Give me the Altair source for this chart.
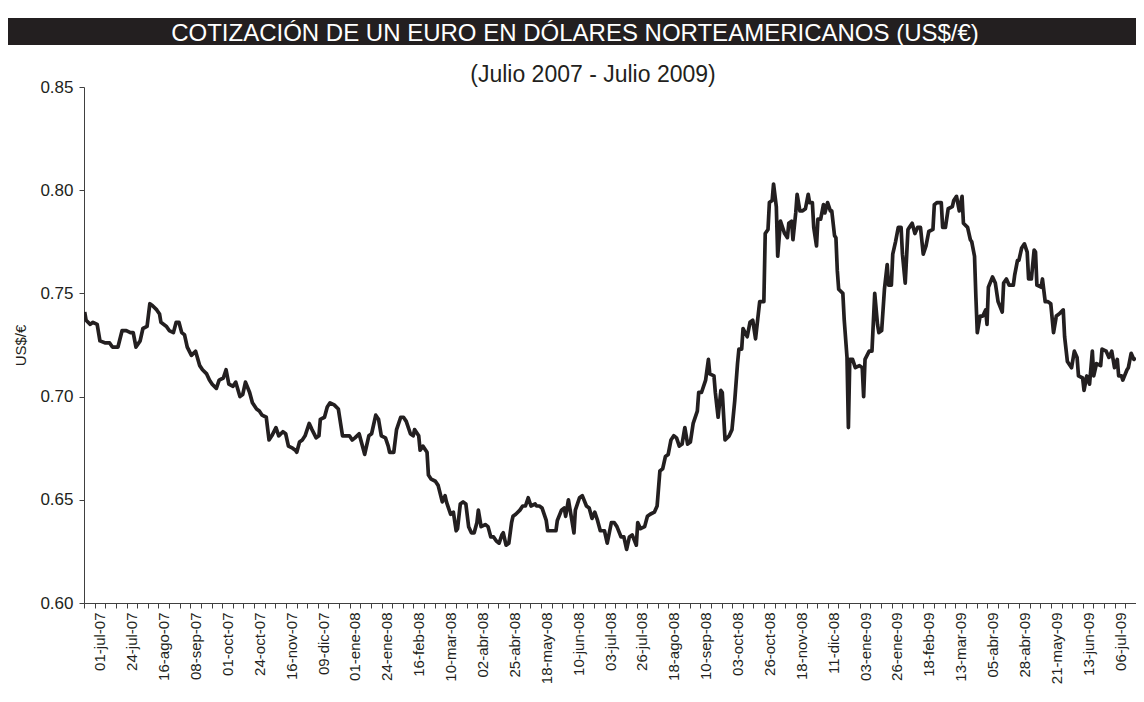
import json
import altair as alt
import pandas as pd

# ---- data: (days since 01-jul-2007, €/US$ quotation) ----
serie_2007 = [(-11,0.741),(-10,0.737),(-7,0.735),(-5,0.736),(-2,0.735),(0,0.727),(4,0.726),(7,0.726),(9,0.724),(13,0.724),(16,0.732),(19,0.732),(22,0.731),(24,0.731),(26,0.724),(29,0.727),(31,0.733),(34,0.734),(36,0.745),(38,0.744),(41,0.742),(43,0.740),(44,0.736),(48,0.734),(50,0.732),(53,0.731),(55,0.736),(57,0.736),(59,0.731),(61,0.730),(63,0.724),(66,0.720),(69,0.722),(72,0.715),(74,0.713),(77,0.711),(79,0.708),(81,0.706),(84,0.704),(86,0.708),(89,0.709),(91,0.713),(93,0.706),(96,0.705),(98,0.707),(101,0.700),(103,0.701),(105,0.707),(108,0.702),(110,0.697),(113,0.694),(115,0.693),(117,0.691),(120,0.690),(122,0.679),(124,0.681),(127,0.685),(129,0.681),(132,0.683),(134,0.682),(136,0.676),(139,0.675),(141,0.674),(142,0.673),(144,0.678),(146,0.679),(148,0.681),(151,0.687),(153,0.684),(156,0.680),(158,0.681),(159,0.689),(162,0.690),(164,0.695),(166,0.697),(169,0.696),(172,0.694),(175,0.681),(177,0.681),(180,0.681),(182,0.679)]

serie_2008 = [(184,0.680),(187,0.682),(189,0.677),(191,0.672),(194,0.681),(196,0.682),(199,0.691),(201,0.689),(203,0.681),(206,0.680),(208,0.676),(209,0.673),(212,0.673),(214,0.684),(217,0.690),(219,0.690),(221,0.688),(224,0.682),(226,0.681),(227,0.684),(230,0.681),(231,0.674),(233,0.676),(236,0.673),(237,0.662),(239,0.660),(242,0.659),(244,0.657),(247,0.649),(249,0.652),(250,0.649),(253,0.643),(255,0.644),(257,0.635),(258,0.636),(260,0.648),(262,0.649),(264,0.648),(266,0.637),(268,0.634),(270,0.634),(272,0.639),(273,0.645),(275,0.637),(278,0.638),(280,0.637),(282,0.632),(284,0.632),(286,0.630),(288,0.629),(290,0.633),(291,0.634),(293,0.628),(295,0.629),(297,0.639),(298,0.642),(300,0.643),(303,0.645),(305,0.647),(307,0.647),(309,0.651),(311,0.647),(314,0.648),(315,0.647),(317,0.647),(319,0.646),(322,0.640),(323,0.635),(325,0.635),(329,0.635),(330,0.640),(333,0.645),(335,0.646),(336,0.642),(338,0.650),(340,0.642),(342,0.634),(343,0.645),(346,0.651),(348,0.652),(351,0.647),(353,0.646),(355,0.641),(357,0.644),(359,0.640),(361,0.635),(364,0.635),(366,0.629),(369,0.639),(371,0.639),(373,0.637),(376,0.632),(378,0.632),(380,0.626),(382,0.632),(384,0.633),(387,0.628),(388,0.639),(390,0.636),(393,0.637),(395,0.642),(397,0.643),(400,0.644),(402,0.647),(404,0.664),(406,0.665),(408,0.671),(410,0.672),(412,0.679),(414,0.681),(416,0.680),(418,0.676),(420,0.677),(422,0.685),(424,0.677),(426,0.678),(428,0.687),(431,0.693),(432,0.702),(434,0.702),(437,0.708),(439,0.718),(440,0.711),(443,0.710),(444,0.702),(446,0.690),(448,0.703),(449,0.702),(451,0.679),(454,0.681),(456,0.684),(458,0.698),(460,0.716),(461,0.723),(463,0.723),(464,0.733),(467,0.729),(469,0.736),(471,0.737),(473,0.728),(475,0.740),(476,0.746),(479,0.746),(480,0.779),(482,0.781),(483,0.794),(485,0.795),(486,0.803),(488,0.792),(489,0.768),(491,0.785),(492,0.783),(494,0.779),(496,0.777),(497,0.784),(499,0.785),(500,0.776),(502,0.789),(503,0.798),(505,0.790),(507,0.790),(509,0.791),(511,0.798),(512,0.794),(514,0.794),(515,0.782),(517,0.773),(518,0.786),(520,0.786),(522,0.793),(523,0.789),(525,0.794),(527,0.790),(528,0.790),(530,0.778),(531,0.777),(532,0.761),(533,0.752),(536,0.750),(537,0.737),(539,0.719),(540,0.685),(541,0.718),(543,0.718),(545,0.714),(548,0.715)]

serie_2009 = [(550,0.714),(551,0.700),(552,0.718),(555,0.722),(557,0.722),(559,0.750),(561,0.735),(562,0.731),(564,0.732),(566,0.752),(568,0.764),(569,0.754),(571,0.754),(572,0.769),(574,0.775),(576,0.782),(578,0.782),(579,0.769),(581,0.755),(583,0.781),(584,0.782),(586,0.784),(588,0.779),(590,0.782),(592,0.782),(594,0.769),(596,0.773),(598,0.780),(601,0.781),(602,0.793),(604,0.794),(607,0.794),(608,0.782),(610,0.782),(612,0.791),(615,0.792),(616,0.795),(618,0.797),(620,0.790),(622,0.797),(623,0.784),(626,0.782),(628,0.776),(629,0.775),(631,0.768),(632,0.748),(633,0.731),(635,0.739),(637,0.739),(639,0.742),(640,0.735),(641,0.753),(644,0.758),(646,0.755),(648,0.746),(651,0.741),(652,0.755),(654,0.757),(656,0.754),(659,0.754),(660,0.759),(662,0.766),(663,0.766),(665,0.772),(667,0.774),(669,0.770),(670,0.757),(672,0.757),(674,0.771),(675,0.770),(676,0.754),(679,0.753),(680,0.757),(682,0.746),(684,0.746),(686,0.745),(688,0.731),(690,0.739),(692,0.740),(695,0.742),(696,0.729),(698,0.717),(701,0.714),(703,0.722),(705,0.719),(706,0.710),(709,0.709),(710,0.703),(712,0.710),(714,0.706),(716,0.722),(717,0.710),(719,0.716),(722,0.715),(723,0.723),(726,0.722),(728,0.719),(730,0.722),(732,0.714),(734,0.718),(735,0.710),(737,0.710),(738,0.708),(741,0.713),(742,0.714),(744,0.721),(746,0.718),(747,0.719)]

# tick labels (one every 23 days from 01-jul-07)
etiquetas = ["01-jul-07","24-jul-07","16-ago-07","08-sep-07","01-oct-07","24-oct-07","16-nov-07",
             "09-dic-07","01-ene-08","24-ene-08","16-feb-08","10-mar-08","02-abr-08","25-abr-08",
             "18-may-08","10-jun-08","03-jul-08","26-jul-08","18-ago-08","10-sep-08","03-oct-08",
             "26-oct-08","18-nov-08","11-dic-08","03-ene-09","26-ene-09","18-feb-09","13-mar-09",
             "05-abr-09","28-abr-09","21-may-09","13-jun-09","06-jul-09"]
paso_etiqueta = 23
y_ticks = [0.60, 0.65, 0.70, 0.75, 0.80, 0.85]

titulo = "COTIZACIÓN DE UN EURO EN DÓLARES NORTEAMERICANOS (US$/€)"
subtitulo = "(Julio 2007 - Julio 2009)"
titulo_y = "US$/€"

# ---- chart ----
W, H = 1052, 516
INK = "#231f20"
AXIS = "#404040"
FONT = "Liberation Sans"

df = pd.DataFrame(serie_2007 + serie_2008 + serie_2009, columns=["dia", "valor"])
label_days = [i * paso_etiqueta for i in range(len(etiquetas))]
tick_days = [(k - 0.5) * paso_etiqueta / 3 for k in range(-1, 99)]
axis_values = sorted(label_days + tick_days)

x_scale = alt.Scale(domain=[-11.5, 747.5], nice=False, zero=False)
y_scale = alt.Scale(domain=[0.60, 0.85], nice=False, zero=False)

is_label = "abs(datum.value / %d - round(datum.value / %d)) < 0.01" % (paso_etiqueta, paso_etiqueta)
label_expr = "(%s) ? %s[round(datum.value / %d)] : ''" % (is_label, json.dumps(etiquetas), paso_etiqueta)

x_axis = alt.Axis(values=axis_values, labelExpr=label_expr, labelAngle=270,
                  tickSize=5, tickColor=AXIS, tickWidth=1,
                  tickOpacity={"condition": {"test": is_label, "value": 0}, "value": 1},
                  title=None, grid=False, labelOverlap=False,
                  labelFont=FONT, labelFontSize=15, labelColor=INK, labelPadding=4,
                  domainColor=AXIS, domainWidth=1)

line = alt.Chart(df).mark_line(color=INK, strokeWidth=3.7, strokeJoin="round", clip=True).encode(
    x=alt.X("dia:Q", scale=x_scale, axis=x_axis),
    y=alt.Y("valor:Q", scale=y_scale,
            axis=alt.Axis(values=y_ticks, format=".2f", tickSize=5, tickColor=AXIS, grid=False,
                          labelFont=FONT, labelFontSize=17, labelColor=INK, labelPadding=6,
                          domainColor=AXIS, domainWidth=1, title=titulo_y, titleFont=FONT,
                          titleFontSize=15, titleFontWeight="normal", titleColor=INK,
                          titlePadding=11)),
)

one = pd.DataFrame({"a": [0]})
bar = alt.Chart(one).mark_rect(color=INK).encode(
    x=alt.value(-76), x2=alt.value(W), y=alt.value(-69), y2=alt.value(-42))
title_text = alt.Chart(one).mark_text(text=titulo, font=FONT, fontSize=24, color="white",
                                      align="center", baseline="middle").encode(
    x=alt.value(491), y=alt.value(-53))
sub_text = alt.Chart(one).mark_text(text=subtitulo, font=FONT, fontSize=23, color=INK,
                                    align="center", baseline="middle").encode(
    x=alt.value(509), y=alt.value(-12))

chart = alt.layer(line, bar, title_text, sub_text).properties(
    width=W, height=H,
    padding={"left": 76, "top": 79, "right": 0, "bottom": 91},
    autosize=alt.AutoSizeParams(type="none"),
).configure_view(stroke=None)

chart.save("out.html", embed_options={"renderer": "svg", "actions": False})
